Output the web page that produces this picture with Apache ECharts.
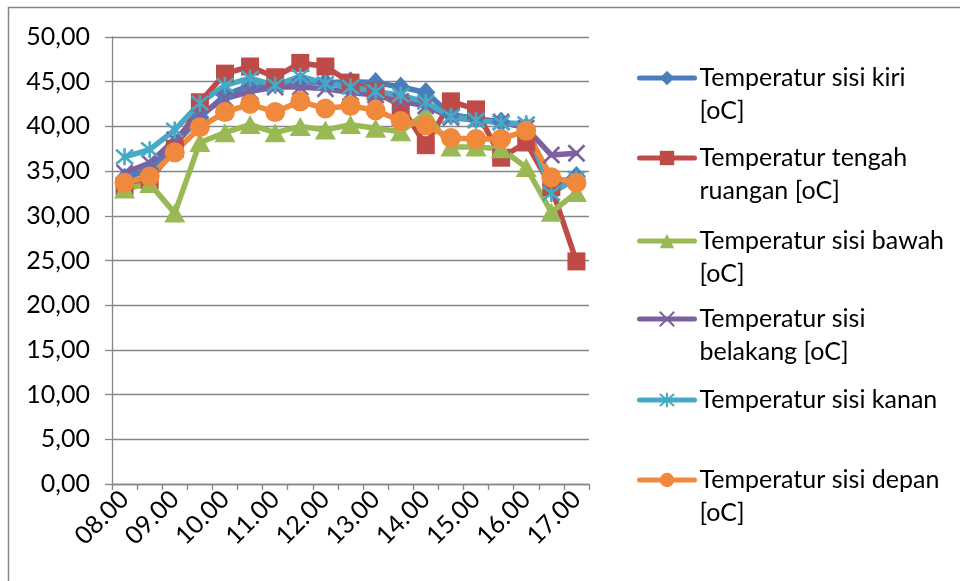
<!DOCTYPE html>
<html>
<head>
<meta charset="utf-8">
<script src="https://cdn.jsdelivr.net/npm/echarts@6/dist/echarts.min.js"></script>
<style>
  html, body { margin: 0; padding: 0; background: #fff; }
  #chart { width: 960px; height: 581px; }
</style>
</head>
<body>
<div id="chart"></div>
<script>
// Half-hourly readings from 08.00 to 17.00
const categories = ['08.00','08.30','09.00','09.30','10.00','10.30','11.00','11.30','12.00','12.30',
                    '13.00','13.30','14.00','14.30','15.00','15.30','16.00','16.30','17.00'];

const sisiKiri     = [34.2, 35.2, 38.0, 41.0, 43.5, 44.6, 44.8, 45.0, 44.9, 45.0, 44.9, 44.4, 43.8, 41.3, 40.9, 40.5, 39.9, 33.4, 34.4];
const tengahRuang  = [33.3, 34.0, 37.5, 42.7, 45.9, 46.7, 45.5, 47.1, 46.7, 44.9, 43.9, 42.3, 37.9, 42.8, 41.9, 36.5, 38.2, 33.2, 24.9];
const sisiBawah    = [33.0, 33.6, 30.3, 38.2, 39.3, 40.2, 39.3, 40.0, 39.6, 40.2, 39.8, 39.4, 41.5, 37.7, 37.7, 37.5, 35.4, 30.4, 32.6];
const sisiBelakang = [34.8, 35.9, 38.5, 41.3, 43.1, 43.9, 44.4, 44.4, 44.2, 43.8, 43.5, 42.8, 42.3, 41.0, 40.7, 40.5, 39.8, 36.8, 37.0];
const sisiKanan    = [36.6, 37.4, 39.6, 42.6, 44.6, 45.4, 44.6, 45.6, 44.8, 44.4, 43.9, 43.5, 42.7, 41.1, 40.7, 40.4, 40.3, 32.5, 34.2];
const sisiDepan    = [33.7, 34.4, 37.1, 39.9, 41.6, 42.5, 41.6, 42.8, 42.0, 42.3, 41.8, 40.6, 40.1, 38.7, 38.6, 38.6, 39.5, 34.3, 33.7];

const seriesNames = [
  'Temperatur sisi kiri [oC]',
  'Temperatur tengah ruangan [oC]',
  'Temperatur sisi bawah [oC]',
  'Temperatur sisi belakang [oC]',
  'Temperatur sisi kanan',
  'Temperatur sisi depan [oC]'
];
// legend text as wrapped in the legend box
const legendLines = [
  ['Temperatur sisi kiri', '[oC]'],
  ['Temperatur tengah', 'ruangan [oC]'],
  ['Temperatur sisi bawah', '[oC]'],
  ['Temperatur sisi', 'belakang [oC]'],
  ['Temperatur sisi kanan'],
  ['Temperatur sisi depan', '[oC]']
];

const FONT = 'Lato';
const FS = 25;
const LH = 33;

const colors = ['#4A7EBB', '#BE4B48', '#98B954', '#7D60A0', '#46AAC5', '#F0893C'];
const xPath = 'path://M0,0L10,10M10,0L0,10';
const starPath = 'path://M0,0L10,10M10,0L0,10M5,-1L5,11';

const seriesData = [sisiKiri, tengahRuang, sisiBawah, sisiBelakang, sisiKanan, sisiDepan];
const symbols = [
  { symbol: 'diamond', size: [19, 21], stroke: false },
  { symbol: 'rect', size: 18, stroke: false },
  { symbol: 'triangle', size: [21, 19], stroke: false },
  { symbol: xPath, size: 16, stroke: true },
  { symbol: starPath, size: 17, stroke: true },
  { symbol: 'circle', size: 20, stroke: false }
];

const series = seriesData.map((d, i) => {
  const s = symbols[i];
  return {
    name: seriesNames[i],
    type: 'line',
    data: d,
    symbol: s.symbol,
    symbolSize: s.size,
    showAllSymbol: true,
    lineStyle: { color: colors[i], width: 5.5, join: 'round', cap: 'round' },
    itemStyle: s.stroke
      ? { color: 'rgba(0,0,0,0)', borderColor: colors[i], borderWidth: 2.6 }
      : { color: colors[i], borderColor: colors[i], borderWidth: 0 },
    emphasis: { disabled: true },
    animation: false
  };
});

// icon centre heights of the six legend entries
const legendIconY = [78, 158, 241, 319, 400, 480];
const legends = seriesNames.map((name, i) => {
  const lines = legendLines[i];
  // a blank leading line keeps the first text line level with the icon
  const text = lines.length > 1 ? '\n' + lines.join('\n') : lines[0];
  const top = lines.length > 1 ? legendIconY[i] - 1.5 * LH : legendIconY[i] - 0.5 * LH;
  return {
    data: [name],
    left: 637,
    top: top,
    padding: 0,
    orient: 'vertical',
    itemWidth: 55,
    itemHeight: 18,
    selectedMode: false,
    formatter: () => text,
    lineStyle: { width: 5, cap: 'round' },
    textStyle: { fontFamily: FONT, fontSize: FS, color: '#000', lineHeight: LH }
  };
});

const chart = echarts.init(document.getElementById('chart'), null, { renderer: 'canvas' });
chart.setOption({
  animation: false,
  backgroundColor: '#fff',
  graphic: [{
    type: 'rect',
    shape: { x: 8.5, y: 7.5, width: 1000, height: 1000 },
    style: { fill: 'none', stroke: '#868686', lineWidth: 1.5 },
    silent: true
  }],
  legend: legends,
  grid: { left: 112, top: 37, width: 477, height: 447, containLabel: false },
  xAxis: {
    type: 'category',
    data: categories,
    boundaryGap: true,
    axisLine: { lineStyle: { color: '#868686', width: 1.3 } },
    axisTick: { show: true, interval: 0, length: 6, lineStyle: { color: '#868686', width: 1.3 } },
    axisLabel: {
      interval: 1,
      rotate: 45,
      margin: 11,
      fontFamily: FONT,
      fontSize: FS,
      color: '#000'
    },
    splitLine: { show: false }
  },
  yAxis: {
    type: 'value',
    min: 0,
    max: 50,
    interval: 5,
    axisLine: { show: true, lineStyle: { color: '#868686', width: 1.3 } },
    axisTick: { show: true, length: 7, lineStyle: { color: '#868686', width: 1.3 } },
    axisLabel: {
      margin: 22,
      fontFamily: FONT,
      fontSize: FS,
      color: '#000',
      formatter: v => v.toFixed(2).replace('.', ',')
    },
    splitLine: { show: true, lineStyle: { color: '#868686', width: 1.3 } }
  },
  series: series
});
</script>
</body>
</html>
